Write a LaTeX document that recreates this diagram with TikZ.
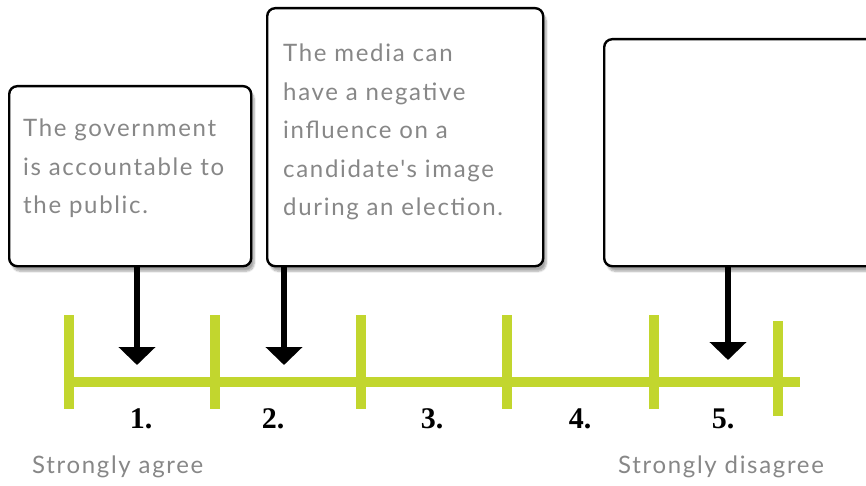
\documentclass[tikz,border=0pt]{standalone}
\usepackage{fontspec}
\setmainfont{Liberation Serif}
\newfontfamily\hand{Lato}[LetterSpace=7]
\usetikzlibrary{arrows.meta,shadows.blur}
\definecolor{lime}{RGB}{194,214,46}
\definecolor{handgray}{RGB}{135,135,135}
\begin{document}
\begin{tikzpicture}[x=1pt,y=-1pt,
  card/.style={draw=black,line width=2.4pt,rounded corners=8pt,fill=white,
    rectangle,anchor=north west,inner sep=0pt,
    blur shadow={shadow xshift=3pt,shadow yshift=-5pt,shadow blur steps=8,shadow opacity=35}},
  cardtext/.style={anchor=north west,inner sep=0pt,align=left,text=handgray,
    font=\hand\fontsize{24}{38.5}\selectfont},
  scaletext/.style={anchor=base west,inner sep=0pt,text=handgray,
    font=\hand\fontsize{24}{28}\selectfont},
  numlabel/.style={anchor=base,inner sep=0pt,font=\bfseries\fontsize{30}{34}\selectfont},
  pointer/.style={draw=black,line width=6pt,-{Triangle[width=36pt,length=18pt]}},
  axis/.style={draw=lime,line width=10pt},
  tick/.style={draw=lime,line width=10pt}]
\useasboundingbox (0,0) rectangle (866,486);

% cards
\node[card,minimum width=242pt,minimum height=180pt] (b1) at (8,85) {};
\node[card,minimum width=276pt,minimum height=258pt] (b2) at (266,7) {};
\node[card,minimum width=300pt,minimum height=227pt] (b3) at (603,38) {};

\node[cardtext] (t1) at (23,119) {The government\\is accountable to\\the public.};
\node[cardtext] (t2) at (283,44) {The media can\\have a negative\\influence on a\\candidate's image\\during an election.};

% scale
\coordinate (a0) at (64,382);
\coordinate (a1) at (800,382);
\draw[axis] (a0) -- (a1);
\foreach \i/\x/\ya/\yb in {1/69/315/409,2/215/315/409,3/361/315/409,4/507/315/409,5/654/315/409,6/778/321/416}{
  \coordinate (k\i a) at (\x,\ya);
  \coordinate (k\i b) at (\x,\yb);
  \draw[tick] (k\i a) -- (k\i b);
}

% pointers
\coordinate (p1) at (137,365);
\coordinate (p2) at (284,365);
\coordinate (p3) at (728,360);
\draw[pointer] (b1.south -| p1) -- (p1);
\draw[pointer] (b2.south -| p2) -- (p2);
\draw[pointer] (b3.south -| p3) -- (p3);

% numbers
\node[numlabel] (n1) at (141,428) {1.};
\node[numlabel] (n2) at (273,428) {2.};
\node[numlabel] (n3) at (432,428) {3.};
\node[numlabel] (n4) at (580,428) {4.};
\node[numlabel] (n5) at (723,428) {5.};

\node[scaletext] (sa) at (32,473) {Strongly agree};
\node[scaletext] (sd) at (618,473) {Strongly disagree};
\end{tikzpicture}
\end{document}
